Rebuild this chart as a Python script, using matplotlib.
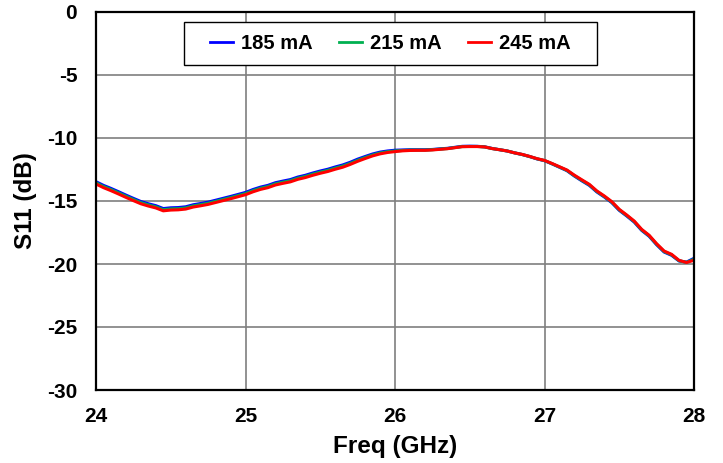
import numpy as np
import matplotlib
matplotlib.use("Agg")
import matplotlib.pyplot as plt
from matplotlib.patches import Rectangle

plt.rcParams['font.family'] = ['Liberation Sans', 'DejaVu Sans']
plt.rcParams['font.weight'] = 'bold'

# Frequency grid (GHz), 50 MHz steps
freq = np.linspace(24.0, 28.0, 81)

# S11 (dB) for each bias current
s11_185mA = [-13.47, -13.76, -14.00, -14.26, -14.53, -14.79, -15.04, -15.22, -15.37, -15.60,
             -15.54, -15.52, -15.46, -15.30, -15.20, -15.09, -14.94, -14.79, -14.64, -14.48,
             -14.32, -14.09, -13.90, -13.76, -13.55, -13.42, -13.30, -13.10, -12.96, -12.78,
             -12.62, -12.48, -12.30, -12.14, -11.93, -11.68, -11.47, -11.27, -11.12, -11.03,
             -10.97, -10.95, -10.93, -10.93, -10.93, -10.91, -10.86, -10.82, -10.74, -10.66,
             -10.65, -10.66, -10.70, -10.83, -10.93, -11.03, -11.18, -11.31, -11.47, -11.66,
             -11.80, -12.05, -12.32, -12.59, -13.02, -13.40, -13.76, -14.28, -14.68, -15.13,
             -15.74, -16.19, -16.67, -17.33, -17.80, -18.47, -19.05, -19.31, -19.76, -19.85,
             -19.55]
s11_215mA = [-13.56, -13.85, -14.09, -14.35, -14.62, -14.88, -15.13, -15.31, -15.46, -15.69,
             -15.63, -15.61, -15.55, -15.39, -15.29, -15.18, -15.03, -14.88, -14.73, -14.57,
             -14.41, -14.18, -13.99, -13.85, -13.64, -13.51, -13.39, -13.19, -13.05, -12.87,
             -12.71, -12.57, -12.39, -12.23, -12.02, -11.77, -11.55, -11.35, -11.19, -11.09,
             -11.03, -10.99, -10.96, -10.96, -10.96, -10.93, -10.88, -10.84, -10.76, -10.68,
             -10.67, -10.67, -10.71, -10.84, -10.93, -11.03, -11.18, -11.31, -11.47, -11.65,
             -11.79, -12.04, -12.30, -12.57, -12.99, -13.36, -13.72, -14.24, -14.64, -15.09,
             -15.70, -16.15, -16.63, -17.29, -17.76, -18.43, -19.01, -19.27, -19.74, -19.87,
             -19.62]
s11_245mA = [-13.65, -13.94, -14.18, -14.44, -14.71, -14.97, -15.22, -15.40, -15.55, -15.78,
             -15.72, -15.70, -15.64, -15.48, -15.38, -15.27, -15.12, -14.97, -14.82, -14.66,
             -14.50, -14.27, -14.08, -13.94, -13.73, -13.60, -13.48, -13.28, -13.14, -12.96,
             -12.80, -12.66, -12.48, -12.32, -12.10, -11.85, -11.63, -11.42, -11.26, -11.15,
             -11.08, -11.02, -10.99, -10.98, -10.98, -10.95, -10.90, -10.85, -10.77, -10.69,
             -10.68, -10.68, -10.71, -10.84, -10.93, -11.03, -11.18, -11.30, -11.46, -11.64,
             -11.78, -12.02, -12.28, -12.54, -12.95, -13.32, -13.68, -14.20, -14.60, -15.05,
             -15.66, -16.11, -16.59, -17.25, -17.72, -18.39, -18.97, -19.23, -19.71, -19.88,
             -19.70]

series = [("185 mA", s11_185mA, "#0000ff"),
          ("215 mA", s11_215mA, "#00b050"),
          ("245 mA", s11_245mA, "#ff0000")]

x_ticks = [24, 25, 26, 27, 28]
y_ticks = [0, -5, -10, -15, -20, -25, -30]

fig = plt.figure(figsize=(7.23, 4.63), dpi=100)
ax = fig.add_axes([96 / 723, 1 - 390 / 463, (694 - 96) / 723, (390 - 12) / 463])

for label, vals, color in series:
    ax.plot(freq, vals, color=color, linewidth=2.2, label=label, zorder=3)

ax.set_xlim(24, 28)
ax.set_ylim(-30, 0)
ax.set_xticks(x_ticks)
ax.set_yticks(y_ticks)
ax.set_yticklabels([str(v) for v in y_ticks])
ax.grid(True, color="#7f7f7f", linewidth=1.2, zorder=1)
ax.tick_params(axis='both', length=0, labelsize=15)
ax.tick_params(axis='x', pad=12.5)
ax.tick_params(axis='y', pad=13.5)
for sp in ax.spines.values():
    sp.set_linewidth(1.6)
    sp.set_color("black")
    sp.set_zorder(6)

ax.set_xlabel("Freq (GHz)", fontsize=17.5, fontweight='bold', labelpad=6)
ax.set_ylabel("S11 (dB)", fontsize=17.5, fontweight='bold', labelpad=7)

# Legend box drawn as a plain white rectangle with the entries on top
ax.add_patch(Rectangle((0.147, 0.860), 0.691, 0.114, transform=ax.transAxes,
                       facecolor="white", edgecolor="black", linewidth=1.0, zorder=4))
leg = ax.legend(loc="center", bbox_to_anchor=(0.492, 0.917), ncol=3, fontsize=14.5,
                frameon=False, handlelength=1.15, handletextpad=0.4,
                columnspacing=1.3, borderpad=0.2)
leg.set_zorder(5)
for line in leg.get_lines():
    line.set_linewidth(2.0)

fig.savefig("out.png", dpi=100)
